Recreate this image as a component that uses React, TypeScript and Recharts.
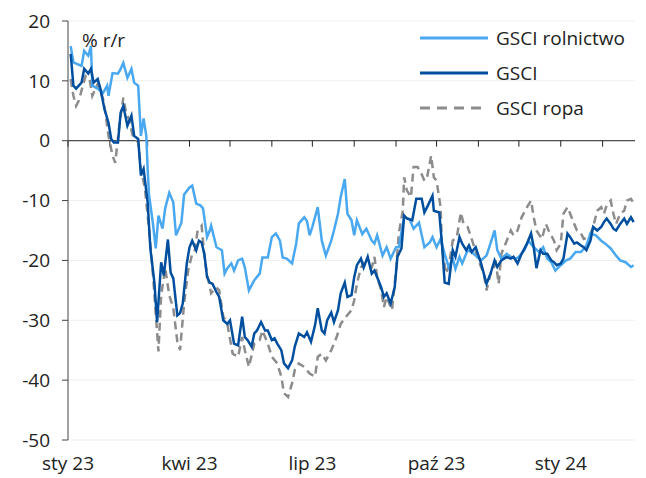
import React from 'react';
import { LineChart, Line, XAxis, YAxis, CartesianGrid, ReferenceLine, Legend } from 'recharts';

// Day offsets are counted from 2023-01-01; values are % y/y.
const START = Date.UTC(2023, 0, 1);
const DAY = 86400000;
const LAST_DAY = 420;

const yTicks = [-50, -40, -30, -20, -10, 0, 10, 20];
const monthNames = ['sty', 'lut', 'mar', 'kwi', 'maj', 'cze', 'lip', 'sie', 'wrz', 'paź', 'lis', 'gru'];
const monthStarts: [number, number][] = [
  [2023, 0], [2023, 1], [2023, 2], [2023, 3], [2023, 4], [2023, 5], [2023, 6],
  [2023, 7], [2023, 8], [2023, 9], [2023, 10], [2023, 11], [2024, 0], [2024, 1],
];
const labelMonths: [number, number][] = [[2023, 0], [2023, 3], [2023, 6], [2023, 9], [2024, 0]];

const seriesNames = ['GSCI rolnictwo', 'GSCI', 'GSCI ropa'];

const rolnictwo: [number, number][] = [
  [2, 15.8], [4, 13.1], [10, 12.5], [12, 15], [15, 14.2], [17, 15.8], [18, 9.2], [22, 8.7], [26, 8], [29, 9.2],
  [30, 7.5], [33, 11.3], [37, 11.2], [39, 12], [41, 13], [44, 10.5], [47, 12], [49, 9.7], [52, 9.2], [54, 0.8],
  [56, 3.7], [58, 0.8], [59, -4.7], [60, -9], [63, -14], [65, -18], [67, -12.5], [70, -14.7], [72, -11.3], [75, -8.7],
  [78, -10.3], [80, -15.8], [84, -13.7], [86, -9], [90, -7.8], [92, -7.5], [95, -10.5], [98, -10.8], [100, -11.3], [103, -16.1],
  [105, -15], [106, -14.2], [110, -17.8], [114, -18.3], [116, -22.2], [118, -21.3], [121, -20.5], [123, -21.7], [126, -20], [129, -19.7],
  [131, -21.2], [134, -25], [138, -23.3], [142, -22.2], [144, -19.5], [148, -19.5], [151, -16.1], [154, -15.5], [157, -16.7], [159, -19.5],
  [162, -19.7], [166, -20.5], [169, -17.2], [171, -13.8], [175, -12.8], [177, -13.4], [179, -15.8], [181, -14.4], [185, -11.1], [188, -16.7],
  [191, -19.2], [195, -16.7], [197, -15], [200, -12.2], [202, -9.4], [205, -6.4], [207, -12.2], [210, -13.3], [212, -15.8], [214, -13.3],
  [218, -15.6], [221, -14.7], [225, -16.7], [227, -17.2], [229, -15.8], [233, -19.2], [236, -17.8], [239, -19.7], [243, -17.8], [245, -17.8],
  [249, -12.8], [253, -13.1], [256, -14.7], [260, -13.7], [264, -17.8], [268, -17], [270, -16.1], [273, -17.8], [276, -16.4], [279, -18.9],
  [282, -21.1], [285, -19.7], [287, -21.4], [290, -19.4], [292, -20.5], [296, -18.3], [299, -18.6], [302, -19.2], [306, -20], [310, -19.2],
  [312, -17.8], [316, -15], [318, -18.3], [321, -19.7], [325, -18.9], [328, -19.4], [332, -19.7], [334, -19.4], [338, -18.3], [341, -16.7],
  [345, -17.8], [349, -18.6], [352, -17.8], [355, -19.7], [358, -20.3], [361, -21.7], [365, -20.8], [369, -20], [372, -19.7], [376, -18.6],
  [380, -18.6], [384, -17.5], [387, -15.5], [391, -15.8], [395, -16.7], [398, -17.2], [402, -18], [406, -19.2], [409, -20], [413, -20.3],
  [417, -21.1], [419, -20.8],
];

const gsci: [number, number][] = [
  [2, 14.5], [4, 9.2], [6, 8.7], [10, 9.7], [12, 12], [15, 11.2], [17, 12], [19, 9.7], [22, 10.3], [24, 8.7],
  [27, 5.3], [30, 3], [32, 0.3], [34, -0.3], [37, -0.3], [39, 4.7], [41, 5.8], [44, 2.5], [47, 4.2], [49, 0.8],
  [52, 0.3], [54, -5.8], [56, -4.7], [59, -10.3], [61, -18], [64, -23.7], [66, -30.3], [69, -20.3], [71, -22.5], [74, -16.5],
  [76, -22], [78, -23], [81, -29.2], [83, -28.8], [85, -27.2], [88, -20.5], [90, -17.8], [92, -16.7], [95, -18.3], [97, -16.7],
  [99, -17], [101, -18.9], [103, -22.8], [105, -23.7], [107, -23.9], [110, -25.3], [112, -26.1], [115, -30], [118, -30.6], [120, -30],
  [123, -33.9], [126, -34.2], [129, -29.4], [131, -32.8], [133, -33.3], [136, -34.4], [138, -32.2], [140, -31.7], [143, -30.3], [146, -31.7],
  [148, -31.7], [151, -33.3], [153, -33], [155, -33.9], [158, -35], [160, -37.2], [163, -38], [166, -36.7], [168, -34.4], [171, -32.2],
  [175, -32.8], [177, -32], [180, -33.6], [183, -30.8], [185, -28], [188, -31.7], [190, -32.2], [192, -30], [195, -28.7], [197, -30.3],
  [200, -28.3], [202, -25.5], [205, -23.7], [207, -26.1], [210, -25.8], [212, -22.8], [214, -20.8], [217, -19.7], [219, -21.2], [222, -19.4],
  [225, -22.2], [227, -21.7], [229, -22.8], [232, -24.5], [234, -26.1], [236, -25.5], [239, -27.2], [242, -24.5], [244, -19.4], [247, -18],
  [249, -12.5], [251, -13], [255, -13.3], [258, -9.7], [262, -9.7], [264, -12], [266, -11.1], [270, -9.2], [271, -11.7], [275, -12],
  [277, -17.2], [279, -23.7], [282, -23.9], [285, -18.3], [287, -19.4], [290, -16.1], [292, -17.2], [295, -18.3], [297, -17.5], [299, -18.6],
  [302, -17.8], [306, -20.5], [308, -22.2], [310, -23.9], [313, -22.2], [316, -20], [318, -21.1], [321, -20], [325, -19.4], [328, -19.7],
  [330, -19.4], [333, -20.5], [336, -18.9], [340, -17.2], [343, -15.5], [345, -17.8], [347, -21.3], [350, -18.3], [352, -18.9], [355, -18.9],
  [358, -20], [360, -20.3], [362, -20.8], [365, -20.5], [367, -19.7], [370, -15.5], [372, -16.1], [375, -17.2], [377, -17], [380, -17.5],
  [382, -17.8], [384, -18.3], [387, -16.7], [389, -14.4], [392, -15], [395, -14.4], [397, -13.6], [399, -13], [402, -13.9], [404, -14.7],
  [406, -15], [409, -13.9], [412, -13], [414, -13.9], [417, -12.8], [419, -13.6],
];

const ropa: [number, number][] = [
  [2, 10.3], [4, 7.5], [6, 5.8], [8, 6.7], [11, 9.2], [13, 10.8], [16, 10.3], [18, 7.5], [22, 9.5], [26, 7],
  [28, 4.2], [30, 0.8], [33, -2.5], [35, -3.7], [38, 2.5], [41, 7.2], [43, 4.7], [45, 3.7], [48, 0.8], [52, -0.3],
  [54, -4.7], [57, -8], [60, -14.7], [63, -22.5], [67, -35.2], [69, -25.8], [72, -21.3], [75, -25.8], [78, -28], [81, -33.6],
  [83, -35], [86, -27.2], [89, -21.7], [92, -18.9], [94, -18.3], [96, -15], [99, -14.2], [101, -19.4], [103, -22.2], [106, -25.5],
  [110, -24.5], [112, -25], [115, -29.4], [118, -30.6], [122, -35.6], [126, -36.1], [129, -32.8], [131, -35], [134, -37.8], [138, -33.9],
  [142, -33.3], [144, -31.7], [148, -33.9], [151, -36.1], [155, -37.2], [158, -39.4], [160, -42.2], [163, -42.8], [166, -40.5], [168, -38.3],
  [171, -37.2], [175, -37.8], [179, -38.9], [183, -39.4], [185, -36.1], [188, -35.6], [191, -36.7], [195, -35], [199, -32.8], [202, -30.6],
  [206, -29.4], [210, -28.3], [212, -26.7], [214, -23.9], [217, -21.2], [219, -20.5], [222, -21.3], [225, -21.2], [227, -19.4], [229, -22.8],
  [232, -25], [234, -27.8], [236, -26.1], [240, -28.3], [243, -21.7], [245, -15.5], [248, -11.7], [249, -6.1], [251, -8.3], [254, -9.4],
  [256, -4.4], [259, -4.4], [262, -5.6], [264, -6.7], [266, -6.1], [269, -2.5], [271, -6.1], [273, -6.7], [276, -11.1], [277, -17.8],
  [280, -22.2], [282, -21.1], [285, -16.7], [288, -16.1], [291, -12], [293, -13.9], [296, -14.4], [299, -16.4], [301, -17.8], [304, -20],
  [308, -22.2], [310, -25], [313, -22.2], [317, -20.5], [319, -23.9], [321, -18.9], [325, -16.7], [328, -15], [330, -15.8], [333, -15],
  [336, -12.8], [340, -11.1], [343, -10], [345, -12.8], [347, -15], [351, -16.4], [354, -13.9], [356, -15], [360, -16.7], [362, -18.3],
  [365, -17.2], [367, -12.2], [370, -11.1], [372, -12.2], [375, -13.9], [377, -15], [380, -15.5], [382, -16.4], [386, -16.1], [389, -14.4],
  [392, -11.7], [395, -11.1], [397, -12.2], [399, -10.8], [402, -10], [404, -12.2], [406, -13.9], [409, -12.2], [412, -11.7], [414, -10],
  [417, -9.7], [419, -10.5],
];

const COLORS = { rolnictwo: '#4aa8f0', gsci: '#004f9f', ropa: '#8c8c8c' };
const FONT = '"Open Sans", "DejaVu Sans", sans-serif';

const toPoints = (arr: [number, number][]) => arr.map(([d, v]) => ({ t: START + d * DAY, v }));
const monthTs = (ym: [number, number]) => Date.UTC(ym[0], ym[1], 1);
const fmtTick = (t: number) => {
  const d = new Date(t);
  return `${monthNames[d.getUTCMonth()]} ${String(d.getUTCFullYear()).slice(2)}`;
};

const legendItems = [
  { name: seriesNames[0], color: COLORS.rolnictwo, dash: undefined as string | undefined },
  { name: seriesNames[1], color: COLORS.gsci, dash: undefined },
  { name: seriesNames[2], color: COLORS.ropa, dash: '10 7' },
];

const renderLegend = () => (
  <div style={{ fontFamily: FONT, fontSize: 19, color: '#222' }}>
    {legendItems.map((it) => (
      <div key={it.name} style={{ display: 'flex', alignItems: 'center', height: 35 }}>
        <svg width={68} height={6} style={{ display: 'block' }}>
          <line x1={0} y1={3} x2={68} y2={3} stroke={it.color} strokeWidth={3} strokeDasharray={it.dash} />
        </svg>
        <span style={{ marginLeft: 8, lineHeight: '20px' }}>{it.name}</span>
      </div>
    ))}
  </div>
);

export default function App() {
  return (
    <div style={{ position: 'absolute', left: 0, top: 0, width: 646, height: 478, background: '#fff' }}>
      <LineChart width={646} height={478} margin={{ top: 21, right: 11, bottom: 0, left: 0 }}>
        <CartesianGrid vertical={false} stroke="#efefef" />
        <XAxis
          dataKey="t"
          type="number"
          domain={[START, START + LAST_DAY * DAY]}
          ticks={labelMonths.map(monthTs)}
          tickFormatter={fmtTick}
          axisLine={false}
          tickLine={false}
          tickSize={0}
          tickMargin={17}
          height={38}
          allowDataOverflow
          tick={{ fill: '#222', fontSize: 19, fontFamily: FONT }}
        />
        <YAxis
          type="number"
          domain={[-50, 20]}
          ticks={yTicks}
          width={68}
          axisLine={{ stroke: '#444' }}
          tickLine={{ stroke: '#444' }}
          tickSize={6}
          tickMargin={12}
          interval={0}
          tick={{ fill: '#222', fontSize: 19, fontFamily: FONT }}
        />
        <ReferenceLine y={0} stroke="#222" strokeWidth={1} />
        {monthStarts.map((m) => (
          <ReferenceLine
            key={`m${m[0]}-${m[1]}`}
            segment={[{ x: monthTs(m), y: 0 }, { x: monthTs(m), y: -1 }]}
            stroke="#222"
            strokeWidth={1}
          />
        ))}
        <Line data={toPoints(ropa)} dataKey="v" name={seriesNames[2]} stroke={COLORS.ropa} strokeWidth={2.5}
          strokeDasharray="8 5" dot={false} isAnimationActive={false} />
        <Line data={toPoints(rolnictwo)} dataKey="v" name={seriesNames[0]} stroke={COLORS.rolnictwo} strokeWidth={2.5}
          dot={false} isAnimationActive={false} />
        <Line data={toPoints(gsci)} dataKey="v" name={seriesNames[1]} stroke={COLORS.gsci} strokeWidth={2.5}
          dot={false} isAnimationActive={false} />
        <Legend
          layout="vertical"
          align="center"
          verticalAlign="middle"
          content={renderLegend}
          wrapperStyle={{ left: 420, top: 20, width: 226, right: 'auto', bottom: 'auto' }}
        />
      </LineChart>
      <div style={{ position: 'absolute', left: 82, top: 27, fontFamily: FONT, fontSize: 19, color: '#222' }}>% r/r</div>
    </div>
  );
}
